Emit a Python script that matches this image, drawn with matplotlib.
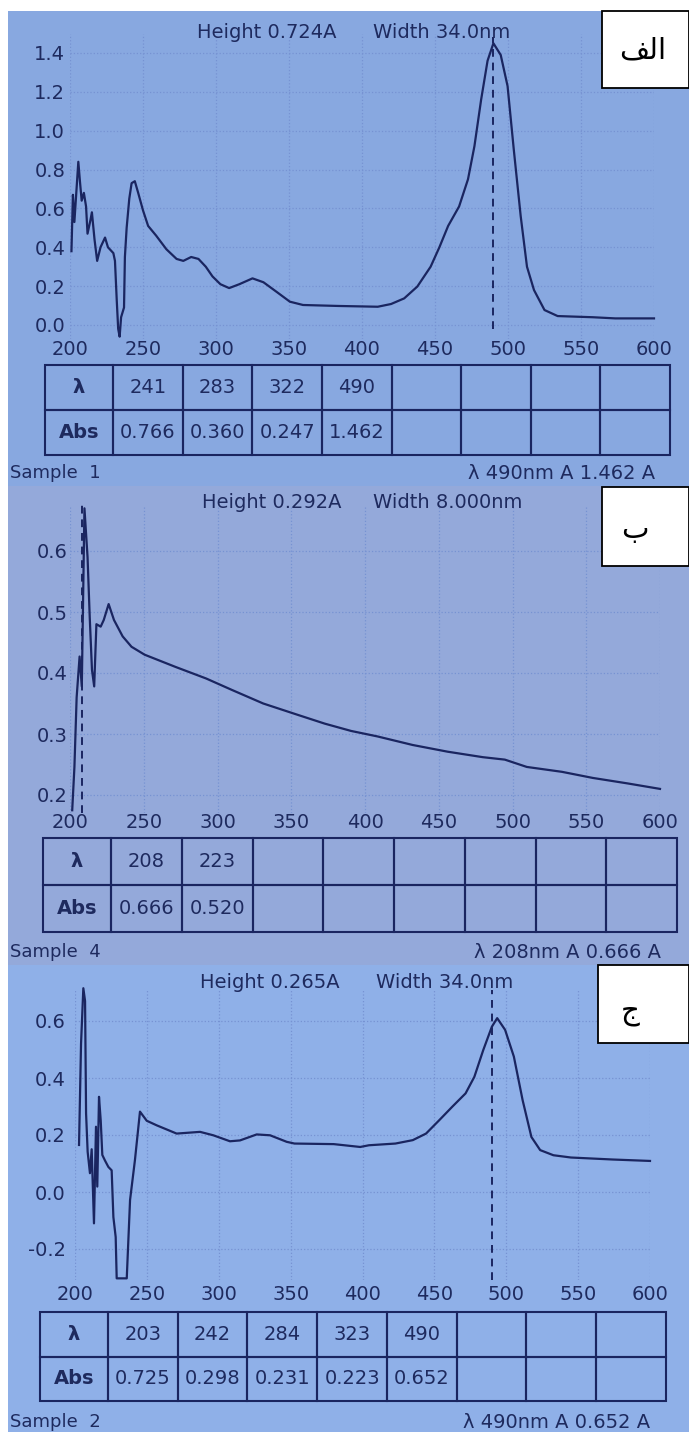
import matplotlib
matplotlib.use('Agg')
import matplotlib.pyplot as plt
from matplotlib.patches import Rectangle
from matplotlib.ticker import FormatStrFormatter

W, H = 689, 1432

# spectra (wavelength nm, absorbance A)
wl_1 = [201, 202, 203, 205.7, 206.8, 208, 209.5, 211, 212, 214, 215, 216.8, 218.6, 220.9, 224, 226,
        229.7, 230.8, 232, 233, 234, 235, 237, 237.6, 238.8, 240.6, 242.2, 244.4, 246.7, 250, 253.5,
        259, 266, 273, 277.6, 283, 288, 293, 297.6, 303, 309, 316, 325, 332.5, 341.6, 350.6, 359.6,
        383.7, 410.8, 419.9, 428.9, 437.9, 447, 453, 459, 466.5, 472.6, 477, 481.6, 486, 490, 495,
        499.7, 504, 508.7, 513, 517.8, 525, 534, 558, 573.5, 600]
abs_1 = [0.38, 0.67, 0.53, 0.84, 0.74, 0.64, 0.68, 0.61, 0.47, 0.54, 0.58, 0.44, 0.33, 0.40, 0.45, 0.40,
         0.37, 0.33, 0.13, -0.02, -0.06, 0.04, 0.09, 0.35, 0.50, 0.65, 0.73, 0.74, 0.68, 0.59, 0.51,
         0.46, 0.39, 0.34, 0.33, 0.35, 0.34, 0.30, 0.25, 0.21, 0.19, 0.21, 0.24, 0.22, 0.17, 0.12, 0.103,
         0.098, 0.094, 0.108, 0.137, 0.198, 0.30, 0.40, 0.51, 0.61, 0.75, 0.92, 1.16, 1.36, 1.45, 1.39,
         1.23, 0.90, 0.56, 0.30, 0.18, 0.077, 0.046, 0.04, 0.034, 0.034]

wl_2 = [201.5, 203, 204.5, 206.5, 208, 209.8, 211.9, 213.4, 214.9, 216.4, 217.9, 220.8, 222.9, 226.2,
        229.8, 235.7, 241.7, 250.6, 271.5, 292.3, 310, 331, 354.9, 372.7, 390.6, 408.5, 432.3, 456,
        479.9, 494.8, 509.7, 533.5, 554.4, 578, 600]
abs_2 = [0.175, 0.246, 0.36, 0.427, 0.378, 0.67, 0.59, 0.49, 0.405, 0.378, 0.48, 0.476, 0.487, 0.513,
         0.487, 0.46, 0.443, 0.43, 0.41, 0.391, 0.372, 0.35, 0.331, 0.317, 0.305, 0.296, 0.282, 0.271,
         0.262, 0.258, 0.246, 0.238, 0.228, 0.219, 0.21]

wl_3 = [202.8, 204.2, 205.8, 207, 207.7, 208.8, 210.4, 211.6, 213.2, 214.6, 215.5, 216.7, 217.9, 219,
        220.9, 223.2, 225.5, 226.7, 228.3, 229, 236, 238.3, 241.7, 245.2, 249.9, 256.8, 270.7, 287,
        296.2, 307.8, 314.8, 326.4, 335.7, 347.3, 352.7, 380, 398.4, 404.5, 422.9, 435, 444.2, 453.4,
        462.6, 471.7, 477.8, 484, 490, 493.7, 499.2, 505.3, 511.4, 517.5, 523.6, 532.8, 545, 574, 600]
abs_3 = [0.165, 0.52, 0.715, 0.67, 0.276, 0.141, 0.066, 0.15, -0.11, 0.229, 0.019, 0.334, 0.25, 0.13,
         0.11, 0.088, 0.076, -0.088, -0.158, -0.303, -0.303, -0.028, 0.112, 0.282, 0.25, 0.234, 0.205,
         0.211, 0.199, 0.178, 0.181, 0.202, 0.199, 0.176, 0.17, 0.168, 0.158, 0.164, 0.17, 0.182, 0.205,
         0.252, 0.30, 0.346, 0.404, 0.498, 0.58, 0.61, 0.569, 0.475, 0.322, 0.193, 0.147, 0.129, 0.121,
         0.114, 0.109]

# peak tables
peak_wl_1 = [241, 283, 322, 490]
peak_abs_1 = [0.766, 0.360, 0.247, 1.462]
peak_wl_2 = [208, 223]
peak_abs_2 = [0.666, 0.520]
peak_wl_3 = [203, 242, 284, 323, 490]
peak_abs_3 = [0.725, 0.298, 0.231, 0.223, 0.652]

x_ticks = [200, 250, 300, 350, 400, 450, 500, 550, 600]
y_ticks_1 = [0.0, 0.2, 0.4, 0.6, 0.8, 1.0, 1.2, 1.4]
y_ticks_2 = [0.2, 0.3, 0.4, 0.5, 0.6]
y_ticks_3 = [-0.2, 0.0, 0.2, 0.4, 0.6]

heights = ['Height 0.724A', 'Height 0.292A', 'Height 0.265A']
widths = ['Width 34.0nm', 'Width 8.000nm', 'Width 34.0nm']
samples = ['Sample  1', 'Sample  4', 'Sample  2']
status = ['λ 490nm A 1.462 A', 'λ 208nm A 0.666 A', 'λ 490nm A 0.652 A']
marker_wl = [490, 208, 490]
# الف / ب / ج  (first one written in presentation forms, visual order, since matplotlib does not shape Arabic)
tags = ['\uFED2\uFEDF\uFE8D', 'ب', 'ج']

TXT = '#1e2a5e'
LINE = '#1a2560'
GRID = '#7692d2'

panels = [
    dict(wl=wl_1, ab=abs_1, pw=peak_wl_1, pa=peak_abs_1, yt=y_ticks_1,
         bg=(8, 11, 689, 486), face='#88a8e0', x200=70, x600=654, yref=(0.0, 325), ysc=194.3,
         ylim=(-0.07, 1.50), mark=(-0.02, 1.48), ty=33, tx=(197, 373),
         box=(602, 11, 689, 88), tag_xy=(643, 50), tab=(45, 365, 670, 455),
         foot_y=473, stat_x=655, xpad=1.0, ypad=3.5),
    dict(wl=wl_2, ab=abs_2, pw=peak_wl_2, pa=peak_abs_2, yt=y_ticks_2,
         bg=(8, 486, 689, 965), face='#94a9da', x200=70, x600=660, yref=(0.2, 795), ysc=610,
         ylim=(0.17, 0.675), mark=(0.17, 0.68), ty=503, tx=(202, 373),
         box=(602, 487, 689, 566), tag_xy=(635, 530), tab=(43, 838, 677, 932),
         foot_y=952, stat_x=661, xpad=0.0, ypad=1.5),
    dict(wl=wl_3, ab=abs_3, pw=peak_wl_3, pa=peak_abs_3, yt=y_ticks_3,
         bg=(8, 965, 689, 1432), face='#8fb0e8', x200=75, x600=650, yref=(0.0, 1192), ysc=285,
         ylim=(-0.31, 0.71), mark=(-0.31, 0.71), ty=982, tx=(200, 376),
         box=(598, 965, 689, 1043), tag_xy=(630, 1012), tab=(40, 1312, 666, 1401),
         foot_y=1422, stat_x=650, xpad=3.4, ypad=6.5),
]


def frac(x0, y0, x1, y1):
    return [x0 / W, 1 - y1 / H, (x1 - x0) / W, (y1 - y0) / H]


fig = plt.figure(figsize=(W / 100, H / 100), dpi=100, facecolor='white')
plt.rcParams['font.family'] = ['DejaVu Sans']

for i, p in enumerate(panels):
    # screen background (behind the axes)
    r = frac(*p['bg'])
    fig.patches.append(Rectangle(r[:2], r[2], r[3], transform=fig.transFigure,
                                 facecolor=p['face'], edgecolor='none', zorder=-5))

    # plot area
    v0, py0 = p['yref']
    lo, hi = p['ylim']
    top = py0 - (hi - v0) * p['ysc']
    bot = py0 + (v0 - lo) * p['ysc']
    ax = fig.add_axes(frac(p['x200'], top, p['x600'], bot))
    ax.set_facecolor('none')
    ax.plot(p['wl'], p['ab'], color=LINE, lw=1.6, clip_on=False, zorder=3)
    ax.vlines(marker_wl[i], p['mark'][0], p['mark'][1], colors=LINE, lw=1.4,
              linestyles=(0, (4, 3)), clip_on=False, zorder=3)
    ax.set_xlim(200, 600)
    ax.set_ylim(lo, hi)
    ax.set_xticks(x_ticks)
    ax.set_yticks(p['yt'])
    ax.yaxis.set_major_formatter(FormatStrFormatter('%.1f'))
    ax.grid(True, color=GRID, linestyle=':', lw=0.9)
    ax.tick_params(axis='both', length=0, labelsize=14, labelcolor=TXT)
    ax.tick_params(axis='x', pad=p['xpad'])
    ax.tick_params(axis='y', pad=p['ypad'])
    for s in ax.spines.values():
        s.set_visible(False)

    # header
    fig.text(p['tx'][0] / W, 1 - p['ty'] / H, heights[i], fontsize=14, color=TXT, va='center', ha='left')
    fig.text(p['tx'][1] / W, 1 - p['ty'] / H, widths[i], fontsize=14, color=TXT, va='center', ha='left')

    # label box
    b = frac(*p['box'])
    fig.patches.append(Rectangle(b[:2], b[2], b[3], transform=fig.transFigure,
                                 facecolor='white', edgecolor='black', lw=1.3, zorder=5, clip_on=False))
    fig.text(p['tag_xy'][0] / W, 1 - p['tag_xy'][1] / H, tags[i], fontsize=21, color='black',
             ha='center', va='center', zorder=6)

    # peak table
    n = len(p['pw'])
    row_l = ['λ'] + [str(v) for v in p['pw']] + [''] * (8 - n)
    row_a = ['Abs'] + ['%.3f' % v for v in p['pa']] + [''] * (8 - n)
    tw = p['tab'][2] - p['tab'][0]
    c0 = 68 / tw
    tax = fig.add_axes(frac(*p['tab']))
    tax.axis('off')
    tbl = tax.table(cellText=[row_l, row_a], colWidths=[c0] + [(1 - c0) / 8] * 8,
                    cellLoc='center', bbox=[0, 0, 1, 1])
    tbl.auto_set_font_size(False)
    tbl.set_fontsize(14)
    for (r, c), cell in tbl.get_celld().items():
        cell.set_facecolor('none')
        cell.set_edgecolor(LINE)
        cell.set_linewidth(1.5)
        cell.get_text().set_color(TXT)
        if c == 0:
            cell.get_text().set_fontweight('bold')

    # footer
    fig.text(10 / W, 1 - p['foot_y'] / H, samples[i], fontsize=13, color=TXT, va='center', ha='left')
    fig.text(p['stat_x'] / W, 1 - p['foot_y'] / H, status[i], fontsize=14, color=TXT, va='center', ha='right')

fig.savefig('out.png', dpi=100, facecolor='white')
